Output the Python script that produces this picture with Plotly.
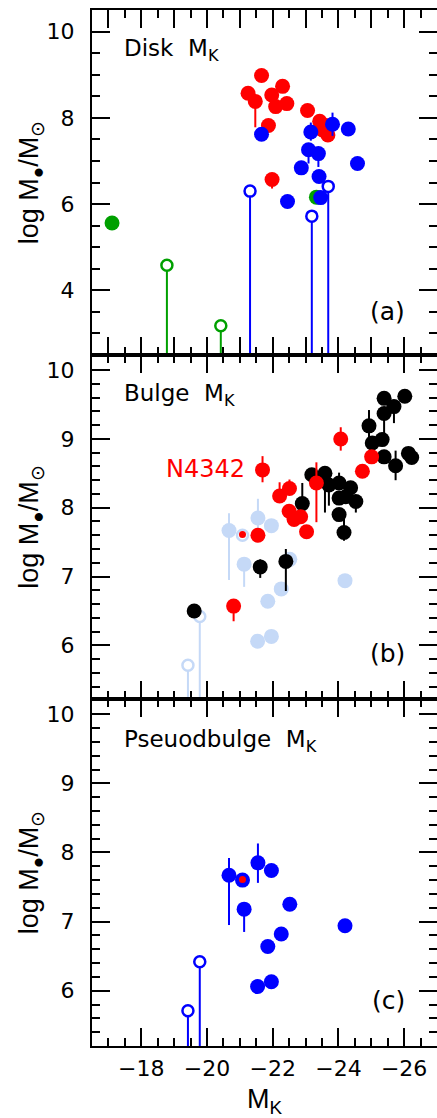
import plotly.graph_objects as go

# ---------------- data ----------------
# Panel (a): Disk M_K
disk_red_x = [-21.66, -21.25, -21.47, -21.97, -22.30, -22.09, -22.43, -21.87, -23.06, -23.43, -23.62, -23.52, -23.68, -21.98]
disk_red_y = [8.98, 8.57, 8.38, 8.53, 8.73, 8.26, 8.33, 7.82, 8.17, 7.92, 7.82, 7.72, 7.60, 6.57]
disk_red_hi = [0, 0, 0, 0, 0, 0, 0, 0, 0, 0, 0, 0, 0, 0]
disk_red_lo = [0, 0, 0.60, 0, 0, 0, 0, 0, 0, 0, 0, 0, 0, 0.21]

disk_blue_x = [-21.66, -23.16, -23.82, -24.30, -23.09, -23.39, -24.58, -22.87, -23.41, -23.46, -22.45]
disk_blue_y = [7.62, 7.67, 7.85, 7.74, 7.26, 7.17, 6.94, 6.84, 6.64, 6.15, 6.06]
disk_blue_hi = [0, 0.22, 0.27, 0, 0, 0, 0, 0, 0, 0, 0]
disk_blue_lo = [0, 0.20, 0.27, 0, 0.32, 0.31, 0, 0, 0, 0, 0]

disk_blue_lim_x = [-21.31, -23.19, -23.69]
disk_blue_lim_y = [6.30, 5.72, 6.41]

disk_green_x = [-17.11, -23.33]
disk_green_y = [5.56, 6.16]
disk_green_lim_x = [-18.78, -20.42]
disk_green_lim_y = [4.58, 3.18]

# Panel (b): Bulge M_K
bulge_black_x = [-19.61, -21.62, -22.40, -22.90, -23.19, -23.59, -23.71, -24.02, -24.37, -24.02, -24.22,
                 -24.53, -24.02, -24.17, -24.93, -25.03, -25.33, -25.39, -25.39, -25.69, -26.02, -25.39,
                 -25.74, -26.13, -26.23]
bulge_black_y = [6.50, 7.14, 7.22, 8.06, 8.48, 8.50, 8.33, 8.36, 8.29, 8.14, 8.16,
                 8.09, 7.90, 7.64, 9.19, 8.94, 8.99, 9.37, 9.59, 9.47, 9.62, 8.74,
                 8.61, 8.79, 8.73]
bulge_black_hi = [0, 0.11, 0.18, 0.30, 0, 0, 0.10, 0.15, 0, 0, 0,
                  0, 0, 0.20, 0.23, 0, 0, 0, 0, 0, 0, 0,
                  0.22, 0, 0]
bulge_black_lo = [0, 0.16, 0.43, 0.10, 0, 0.57, 0.30, 0, 0, 0, 0,
                  0.16, 0, 0.12, 0.19, 0, 0, 0.30, 0, 0.24, 0, 0,
                  0.21, 0, 0]

bulge_red_x = [-21.69, -24.07, -24.73, -25.01, -22.21, -22.51, -22.50, -22.65, -22.85, -23.03, -23.33, -21.55, -20.81]
bulge_red_y = [8.55, 9.00, 8.53, 8.74, 8.17, 8.28, 7.95, 7.83, 7.87, 7.65, 8.36, 7.60, 6.57]
bulge_red_hi = [0.20, 0.17, 0.10, 0, 0.20, 0.13, 0, 0, 0, 0, 0.30, 0, 0]
bulge_red_lo = [0.18, 0.17, 0, 0, 0, 0, 0, 0, 0, 0, 0.57, 0, 0.22]

small_red_x = [-21.08]
small_red_y = [7.61]

# Pseudobulges (panel c, and pale copy in panel b)
pb_x = [-20.67, -21.13, -21.55, -21.96, -22.52, -22.26, -21.85, -21.96, -21.54, -24.20]
pb_y = [7.67, 7.18, 7.85, 7.74, 7.25, 6.82, 6.64, 6.13, 6.06, 6.94]
pb_hi = [0.25, 0.08, 0.28, 0, 0, 0, 0, 0, 0, 0]
pb_lo = [0.72, 0.33, 0.29, 0, 0, 0, 0, 0, 0, 0]
pb_mixed_x = [-21.08]
pb_mixed_y = [7.60]
pb_lim_x = [-19.42, -19.78]
pb_lim_y = [5.71, 6.42]

# ---------------- style ----------------
RED = "#ff0000"
BLUE = "#0000ff"
GREEN = "#00a000"
BLACK = "#000000"
PALE = "#c5d9f7"
FONT = "DejaVu Sans, sans-serif"
TFONT = "Liberation Sans, Arial, sans-serif"
MS = 15
MS_OPEN = 11
MS_SMALL = 7
DROP = 10  # upper-limit line length (runs off the bottom of the panel)

fig = go.Figure()


def pts(x, y, color, xa, ya, hi=None, lo=None, size=MS, symbol="circle"):
    err = None
    if hi is not None:
        err = dict(type="data", symmetric=False, array=hi, arrayminus=lo,
                   width=0, thickness=2, color=color)
    if symbol == "circle-open":
        marker = dict(size=MS_OPEN, color="white", symbol="circle",
                      line=dict(color=color, width=2.5))
    else:
        marker = dict(size=size, color=color, line=dict(width=0))
    fig.add_trace(go.Scatter(x=x, y=y, mode="markers", marker=marker,
                             error_y=err, xaxis=xa, yaxis=ya,
                             showlegend=False, hoverinfo="skip"))


def limits(x, y, color, xa, ya):
    pts(x, y, color, xa, ya, hi=[0] * len(x), lo=[DROP] * len(x),
        symbol="circle-open")


# panel a
pts(disk_green_x, disk_green_y, GREEN, "x", "y")
limits(disk_green_lim_x, disk_green_lim_y, GREEN, "x", "y")
pts(disk_red_x, disk_red_y, RED, "x", "y", disk_red_hi, disk_red_lo)
limits(disk_blue_lim_x, disk_blue_lim_y, BLUE, "x", "y")
pts(disk_blue_x, disk_blue_y, BLUE, "x", "y", disk_blue_hi, disk_blue_lo)

# panel b
limits(pb_lim_x, pb_lim_y, PALE, "x2", "y2")
pts(pb_x, pb_y, PALE, "x2", "y2", pb_hi, pb_lo)
pts(pb_mixed_x, pb_mixed_y, PALE, "x2", "y2", symbol="circle-open")
pts(bulge_black_x, bulge_black_y, BLACK, "x2", "y2", bulge_black_hi, bulge_black_lo)
pts(bulge_red_x, bulge_red_y, RED, "x2", "y2", bulge_red_hi, bulge_red_lo)
pts(small_red_x, small_red_y, RED, "x2", "y2", size=MS_SMALL)

# panel c
limits(pb_lim_x, pb_lim_y, BLUE, "x3", "y3")
pts(pb_x, pb_y, BLUE, "x3", "y3", pb_hi, pb_lo)
pts(pb_mixed_x, pb_mixed_y, BLUE, "x3", "y3")
pts(small_red_x, small_red_y, RED, "x3", "y3", size=MS_SMALL)

XR = [-16.5, -27.0]
ytitle = "log M<sub>\u25cf</sub>/M<sub>\u2299</sub>"


def xax(anchor, major, labels):
    return dict(range=XR, anchor=anchor, domain=[0, 1], showgrid=False, zeroline=False,
                showline=True, linecolor=BLACK, linewidth=2, mirror="ticks",
                ticks="inside", ticklen=18, tickwidth=2, tickcolor=BLACK,
                tick0=0, dtick=major, showticklabels=labels,
                tickfont=dict(size=22, family=FONT, color=BLACK),
                ticklabelstandoff=2,
                minor=dict(dtick=0.5, tick0=0, ticks="inside", ticklen=8,
                           tickwidth=2, tickcolor=BLACK))


def yax(anchor, dom, rng, major, minor):
    return dict(range=rng, anchor=anchor, domain=dom, showgrid=False, zeroline=False,
                showline=True, linecolor=BLACK, linewidth=2, mirror="ticks",
                ticks="inside", ticklen=18, tickwidth=2, tickcolor=BLACK,
                tick0=0, dtick=major,
                tickfont=dict(size=22, family=FONT, color=BLACK),
                ticklabelstandoff=11,
                title=dict(text=ytitle, font=dict(size=27, family=TFONT, color=BLACK),
                           standoff=0),
                minor=dict(dtick=minor, tick0=0, ticks="inside", ticklen=8,
                           tickwidth=2, tickcolor=BLACK))


DA = [0.66699, 1.0]
DB = [0.33494, 0.66699]
DC = [0.0, 0.33494]

xa3 = xax("y3", 2, True)
xa3["title"] = dict(text="M<sub>K</sub>", font=dict(size=27, family=TFONT, color=BLACK),
                    standoff=10)

fig.update_layout(
    width=437, height=1118,
    margin=dict(l=92, r=0, t=10, b=72, autoexpand=False),
    paper_bgcolor="white", plot_bgcolor="white",
    font=dict(family=FONT, color=BLACK),
    xaxis=xax("y", 1, False),
    xaxis2=xax("y2", 2, False),
    xaxis3=xa3,
    yaxis=yax("x", DA, [2.5, 10.5], 2, 0.5),
    yaxis2=yax("x2", DB, [5.22, 10.22], 1, 0.2),
    yaxis3=yax("x3", DC, [5.2, 10.22], 1, 0.2),
)

sp = "\u00a0\u00a0"
ann = [
    dict(text="Disk" + sp + "M<sub>K</sub>", xref="x domain", yref="y domain", x=0.087, y=0.885),
    dict(text="Bulge" + sp + "M<sub>K</sub>", xref="x2 domain", yref="y2 domain", x=0.087, y=0.885),
    dict(text="Pseuodbulge" + sp + "M<sub>K</sub>", xref="x3 domain", yref="y3 domain", x=0.087, y=0.88),
]
for a in ann:
    a.update(xanchor="left", yanchor="middle", showarrow=False,
             font=dict(size=23, family=FONT, color=BLACK))
    fig.add_annotation(**a)

for lab, xr, yr, yy in [("(a)", "x domain", "y domain", 0.125),
                        ("(b)", "x2 domain", "y2 domain", 0.131),
                        ("(c)", "x3 domain", "y3 domain", 0.13)]:
    fig.add_annotation(text=lab, xref=xr, yref=yr, x=0.913, y=yy, xanchor="right",
                       yanchor="middle", showarrow=False,
                       font=dict(size=25, family=FONT, color=BLACK))

fig.add_annotation(text="N4342", xref="x2", yref="y2", x=-21.22, y=8.56,
                   xanchor="right", yanchor="middle", showarrow=False,
                   font=dict(size=24, family=FONT, color=RED))

fig.write_html("out.html", config={"displayModeBar": False},
               post_script="document.body.style.margin='0px';")
